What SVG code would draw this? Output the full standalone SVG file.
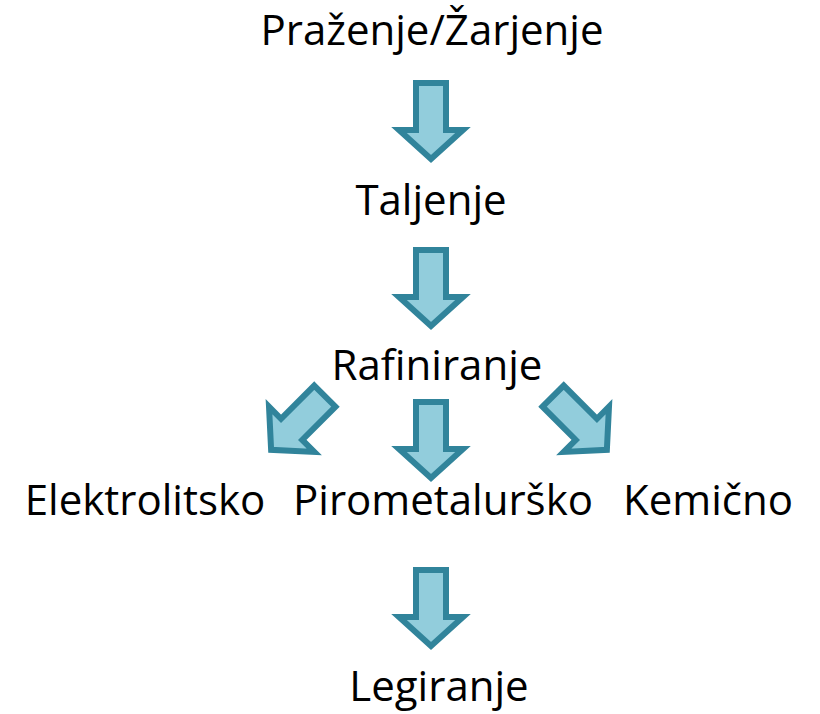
<svg xmlns="http://www.w3.org/2000/svg" width="820" height="714" viewBox="0 0 820 714">
  <style>
    .label { font-family: "Open Sans", "Liberation Sans", sans-serif; font-size: 42px; fill: #000; text-anchor: middle; }
    .arrow { fill: #92CDDC; stroke: #31849B; stroke-width: 6; stroke-linejoin: miter; }
  </style>
  <defs>
    <!-- block arrow pointing down, centred on the origin -->
    <path id="blockArrow" class="arrow" d="M -15,-38 H 15 V 9 H 32 L 0,38 L -32,9 H -15 Z"/>
  </defs>
  <rect width="820" height="714" fill="#ffffff"/>

  <g id="connectors">
    <use href="#blockArrow" transform="translate(431,121)"/>
    <use href="#blockArrow" transform="translate(431,288)"/>
    <use href="#blockArrow" transform="translate(298,423) rotate(45)"/>
    <use href="#blockArrow" transform="translate(431,440)"/>
    <use href="#blockArrow" transform="translate(580,423) rotate(-45)"/>
    <use href="#blockArrow" transform="translate(431,608)"/>
  </g>

  <g id="prazenje"><text class="label" x="432" y="45">Praženje/Žarjenje</text></g>
  <g id="taljenje"><text class="label" x="431" y="215">Taljenje</text></g>
  <g id="rafiniranje"><text class="label" x="437" y="380">Rafiniranje</text></g>
  <g id="elektrolitsko"><text class="label" x="145" y="515">Elektrolitsko</text></g>
  <g id="pirometalursko"><text class="label" x="443" y="515">Pirometalurško</text></g>
  <g id="kemicno"><text class="label" x="708" y="515">Kemično</text></g>
  <g id="legiranje"><text class="label" x="439" y="701">Legiranje</text></g>
</svg>
